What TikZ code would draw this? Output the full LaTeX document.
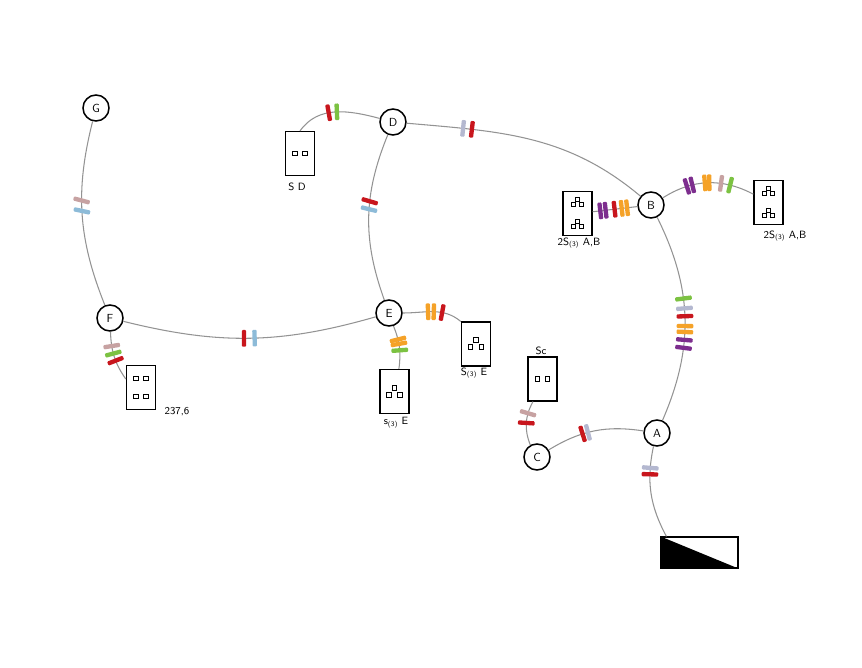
\documentclass[tikz,border=0pt]{standalone}
\definecolor{cred}{HTML}{C8161D}
\definecolor{cblu}{HTML}{8DBBD8}
\definecolor{cpnk}{HTML}{C7A2A2}
\definecolor{cgrn}{HTML}{7CC242}
\definecolor{corg}{HTML}{F5A228}
\definecolor{cprp}{HTML}{7D2E8E}
\definecolor{clav}{HTML}{B4B8D0}

\begin{document}
\begin{tikzpicture}[x=0.03cm, y=-0.03cm,
    stn/.style={circle, draw, line width=1.3pt, minimum size=0.78cm, inner sep=0pt, fill=white, font=\sffamily},
    cab/.style={draw, line width=1.2pt, minimum width=0.87cm, minimum height=1.31cm, inner sep=0pt},
    sq/.style={draw, line width=0.8pt, minimum size=0.14cm, inner sep=0pt},
    tag/.style={font=\sffamily\small, inner sep=0pt},
    wire/.style={draw=gray!85, line width=0.9pt},
    mk/.style={sloped, fill=#1, inner sep=0pt, minimum width=0.13cm, minimum height=0.5cm, rounded corners=0.03cm}
]
\useasboundingbox (0,0) rectangle (862,668);

% stations
\node[stn] (g) at (96,108) {G};
\node[stn] (d) at (393,122) {D};
\node[stn] (b) at (651,205) {B};
\node[stn] (f) at (110,318) {F};
\node[stn] (e) at (389,313) {E};
\node[stn] (a) at (657,433) {A};
\node[stn] (c) at (537,457) {C};

% boxes
\node[cab] (sd) at (300,153.5) {};
\node[cab] (lb) at (577.5,213.5) {};
\node[cab] (rb) at (768.5,202.5) {};
\node[cab] (b6) at (141,387.5) {};
\node[cab] (er) at (476,344) {};
\node[cab] (eb) at (394.5,391.5) {};
\node[cab] (sc) at (542.5,379) {};
\node[draw, line width=1pt, minimum width=2.31cm, minimum height=0.93cm, inner sep=0pt] (bw) at (699.5,552.5) {};
\fill (bw.north west) -- (bw.south west) -- (bw.south east) -- cycle;

\foreach \dx/\dy [count=\i] in {-5/0,5/0}
  \node[sq] (sd-q\i) at ([shift={(\dx,\dy)}]sd.center) {};
\foreach \dx/\dy [count=\i] in {-5/0,5/0}
  \node[sq] (sc-q\i) at ([shift={(\dx,\dy)}]sc.center) {};
\foreach \dx/\dy [count=\i] in {0/-14,-4/-9,4/-9,0/8,-4/13,4/13}
  \node[sq] (lb-q\i) at ([shift={(\dx,\dy)}]lb.center) {};
\foreach \dx/\dy [count=\i] in {0/-14,-4/-9,4/-9,0/8,-4/13,4/13}
  \node[sq] (rb-q\i) at ([shift={(\dx,\dy)}]rb.center) {};
\foreach \dx/\dy [count=\i] in {-5/-9,5/-9,-5/9,5/9}
  \node[sq] (b6-q\i) at ([shift={(\dx,\dy)}]b6.center) {};
\foreach \dx/\dy [count=\i] in {0/-4,-5.5/3,5.5/3}
  \node[sq] (er-q\i) at ([shift={(\dx,\dy)}]er.center) {};
\foreach \dx/\dy [count=\i] in {0/-3.5,-5.5/3.5,5.5/3.5}
  \node[sq] (eb-q\i) at ([shift={(\dx,\dy)}]eb.center) {};

% labels
\node[tag] (sd-l) at (297,187) {S D};
\node[tag] (lb-l) at (579,243) {2S\textsubscript{(3)} A,B};
\node[tag] (rb-l) at (785,236) {2S\textsubscript{(3)} A,B};
\node[tag] (b6-l) at (177,412) {237,6};
\node[tag] (er-l) at (474,373) {S\textsubscript{(3)} E};
\node[tag] (eb-l) at (396,423) {s\textsubscript{(3)} E};
\node[tag] (sc-l) at (541,351) {Sc};

% lines
\draw[wire] (g) to[bend right=18] node[mk=cpnk,pos=0.42,rotate=-15]{} node[mk=cblu,pos=0.48,rotate=-15]{} (f);
\draw[wire] (f) to[bend right=15] node[mk=cred,pos=0.475]{} node[mk=cblu,pos=0.52]{} (e);
\draw[wire] (d) to[bend right=21] node[mk=cred,pos=0.40,rotate=-10]{} node[mk=cblu,pos=0.45,rotate=-10]{} (e);
\draw[wire] (d) to[out=-5,in=140] node[mk=clav,pos=0.21]{} node[mk=cred,pos=0.245]{} (b);
\draw[wire] (sd.north) to[out=55,in=165] node[mk=cred,pos=0.42]{} node[mk=cgrn,pos=0.52]{} (d);
\draw[wire] (lb) -- node[mk=cprp,pos=0.17]{} node[mk=cprp,pos=0.29]{} node[mk=cred,pos=0.49]{}
    node[mk=corg,pos=0.65]{} node[mk=corg,pos=0.77]{} (b);
\draw[wire] (b) to[bend left=30] node[mk=cprp,pos=0.27]{} node[mk=cprp,pos=0.33]{} node[mk=corg,pos=0.47]{}
    node[mk=corg,pos=0.52]{} node[mk=cpnk,pos=0.65]{} node[mk=cgrn,pos=0.75]{} (rb);
\draw[wire] (b) to[bend left=25] node[mk=cgrn,pos=0.40]{} node[mk=clav,pos=0.45]{} node[mk=cred,pos=0.49]{}
    node[mk=corg,pos=0.54]{} node[mk=corg,pos=0.57]{} node[mk=cprp,pos=0.61]{} node[mk=cprp,pos=0.65]{} (a);
\draw[wire] (e) to[out=0,in=140] node[mk=corg,pos=0.40]{} node[mk=corg,pos=0.50]{} node[mk=cred,pos=0.65]{} (er.north west);
\draw[wire] (e) to[bend left=15] node[mk=corg,pos=0.31]{} node[mk=corg,pos=0.42]{} node[mk=cgrn,pos=0.58]{} (eb);
\draw[wire] (f) to[out=-88,in=125] node[mk=cpnk,pos=0.27]{} node[mk=cgrn,pos=0.43]{} node[mk=cred,pos=0.59]{} ([yshift=0.255cm]b6.west);
\draw[wire] (c) to[bend left=25] node[mk=cred,pos=0.5]{} node[mk=cpnk,pos=0.73]{} ([xshift=-0.285cm]sc.south);
\draw[wire] (c) to[bend left=20] node[mk=cred,pos=0.37]{} node[mk=clav,pos=0.43]{} (a);
\draw[wire] (a) to[bend right=20] node[mk=clav,pos=0.22]{} node[mk=cred,pos=0.29]{} ([xshift=0.18cm]bw.north west);
\end{tikzpicture}
\end{document}
